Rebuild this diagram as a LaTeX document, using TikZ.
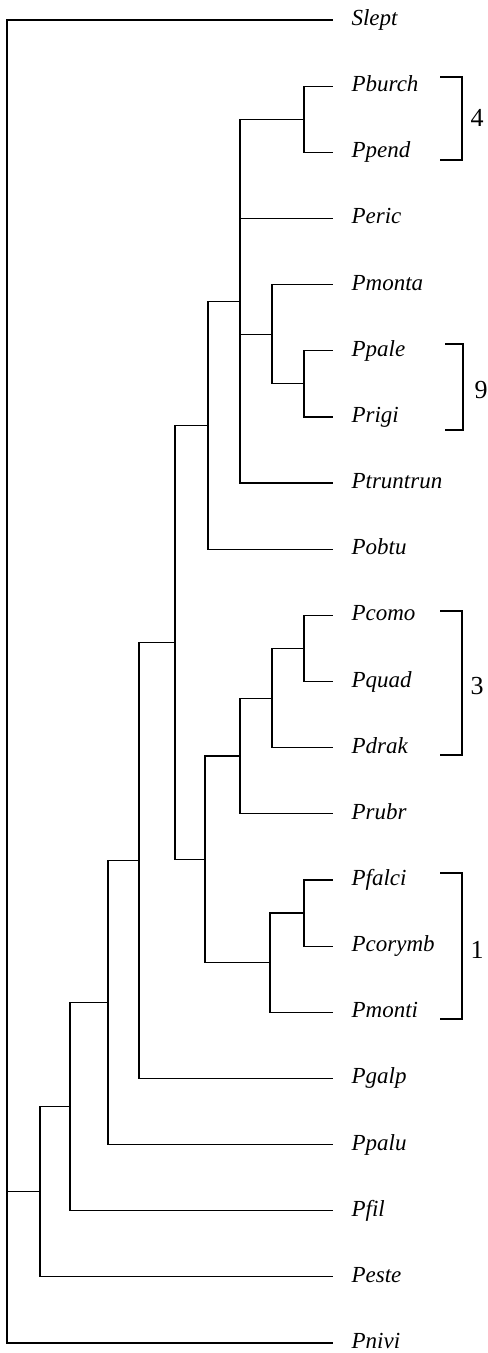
\documentclass[tikz,border=0pt]{standalone}
\usepackage{fontspec}
\setmainfont{Liberation Serif}

\begin{document}
\begin{tikzpicture}[x=0.5pt, y=-0.5pt, line width=0.6pt,
  leaf/.style={anchor=west, inner xsep=9pt, inner ysep=0pt, text height=1.6ex, text depth=0.4ex,
    font=\fontsize{11.5}{13}\selectfont\itshape},
  grp/.style={font=\fontsize{13}{15}\selectfont}]
\useasboundingbox (0,0) rectangle (487,1353);
% taxa, top to bottom
\foreach \t [count=\i from 0] in {Slept,Pburch,Ppend,Peric,Pmonta,Ppale,Prigi,Ptruntrun,Pobtu,
    Pcomo,Pquad,Pdrak,Prubr,Pfalci,Pcorymb,Pmonti,Pgalp,Ppalu,Pfil,Peste,Pnivi}
  \node[leaf] (\t) at (333,{20+66.15*\i}) {\t};
% inner nodes
\coordinate (c4) at (304,119.2);
\coordinate (c9) at (304,383.8);
\coordinate (cmonta) at (272,334.2);
\coordinate (cpoly) at (240,301.2);
\coordinate (cobtu) at (208,425.2);
\coordinate (c3a) at (304,648.5);
\coordinate (c3) at (272,698.1);
\coordinate (crubr) at (240,756);
\coordinate (c1a) at (304,913);
\coordinate (c1) at (270,962.7);
\coordinate (cB) at (205,859.3);
\coordinate (cA) at (175,642.3);
\coordinate (cgalp) at (139,860.3);
\coordinate (cpalu) at (108,1002.5);
\coordinate (cfil) at (70,1106.6);
\coordinate (ceste) at (40,1191.7);
\coordinate (root) at (7,681.5);
% branches
\foreach \p/\c in {c4/Pburch,c4/Ppend,c9/Ppale,c9/Prigi,cmonta/Pmonta,cmonta/c9,
    cpoly/c4,cpoly/Peric,cpoly/cmonta,cpoly/Ptruntrun,cobtu/cpoly,cobtu/Pobtu,
    c3a/Pcomo,c3a/Pquad,c3/c3a,c3/Pdrak,crubr/c3,crubr/Prubr,
    c1a/Pfalci,c1a/Pcorymb,c1/c1a,c1/Pmonti,cB/crubr,cB/c1,cA/cobtu,cA/cB,
    cgalp/cA,cgalp/Pgalp,cpalu/cgalp,cpalu/Ppalu,cfil/cpalu,cfil/Pfil,
    ceste/cfil,ceste/Peste,root/Slept,root/ceste,root/Pnivi}
  \draw (\p) |- (\c);
% groups
\draw (440,77) -| (462,160) -- (440,160);
\node[grp] (g4) at (477,118) {4};
\draw (445,344) -| (463,430) -- (445,430);
\node[grp] (g9) at (481,390) {9};
\draw (440,611) -| (462,755) -- (440,755);
\node[grp] (g3) at (477,686) {3};
\draw (440,873) -| (462,1019) -- (440,1019);
\node[grp] (g1) at (477,950) {1};
\end{tikzpicture}
\end{document}
